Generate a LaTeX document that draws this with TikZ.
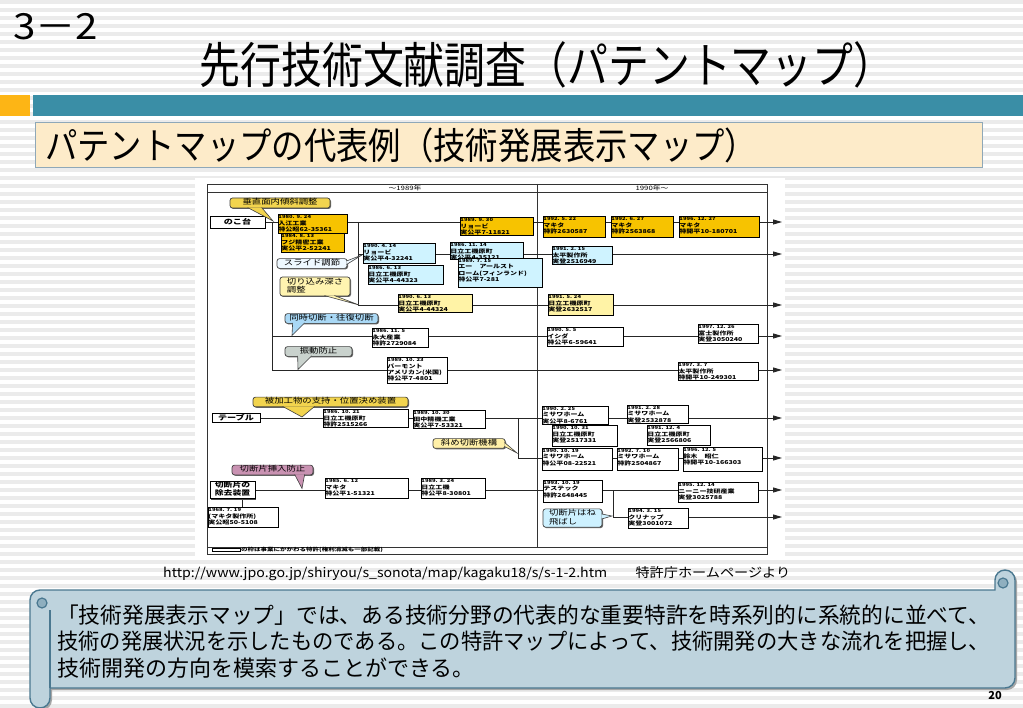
\documentclass[tikz,border=0pt]{standalone}
\usepackage{fontspec}
\usepackage{graphicx}
\setmainfont{Noto Sans CJK JP}
\usetikzlibrary{arrows.meta,shadows,calc}
\pgfdeclarelayer{bg}
\pgfdeclarelayer{conn}
\pgfsetlayers{bg,conn,main}
\definecolor{stripe}{HTML}{EBEBEB}
\definecolor{barorange}{HTML}{FDB515}
\definecolor{barteal}{HTML}{3A8EA6}
\definecolor{subfill}{HTML}{FDEBC9}
\definecolor{subdraw}{HTML}{8FA8B8}
\definecolor{scrollfill}{HTML}{BED3DD}
\definecolor{scrolldraw}{HTML}{4A7890}
\definecolor{scrolldark}{HTML}{8FAFBF}
\definecolor{bgold}{HTML}{F7C300}
\definecolor{bcyan}{HTML}{CFF3FF}
\definecolor{byel}{HTML}{FFF3A6}
\definecolor{cslide}{HTML}{EEF8FF}
\definecolor{cdepth}{HTML}{FFF4B0}
\definecolor{cdouble}{HTML}{A9D8F5}
\definecolor{cvib}{HTML}{C9D2CD}
\definecolor{cwork}{HTML}{F2D44E}
\definecolor{coblique}{HTML}{FFF0A8}
\definecolor{cpiece}{HTML}{C992B2}
\definecolor{cfly}{HTML}{CDF1FF}
\newcommand\bxfont{\fontsize{5.4}{6}\selectfont\bfseries}
\newcommand\dtfont{\fontsize{4.5}{5}\selectfont\bfseries}
\newcommand\clfont{\fontsize{7.5}{8}\selectfont}
\def\splitd#1\\#2\relax{{\dtfont #1}\\#2}
\newcommand\btext[1]{\scalebox{1.3}[1]{\bxfont\begin{tabular}{@{}l@{}}\splitd#1\relax\end{tabular}}}
\newcommand\pbx[7]{%
  \node[pbox,fill=#6,minimum width={#4pt-#2pt},minimum height={#5pt-#3pt}] (#1) at ({(#2+#4)/2},{(#3+#5)/2}) {};%
  \node[anchor=north west,inner sep=0.6pt] (#1t) at (#1.north west) {\btext{#7}};}
\newcommand\cll[7]{%
  \node[call,fill=#6,minimum width={#4pt-#2pt},minimum height={#5pt-#3pt}] (#1) at ({(#2+#4)/2},{(#3+#5)/2}) {\scalebox{1.25}[1]{\clfont\begin{tabular}{@{}l@{}}#7\end{tabular}}};}
\newcommand\ptr[4]{\fill[#1] #2 -- #4 -- #3 -- cycle; \draw[callline] #2 -- #4 -- #3;}
\tikzset{
  pbox/.style={draw=black,line width=0.7pt,inner sep=0pt,
    drop shadow={shadow xshift=1pt,shadow yshift=-1pt,fill=black!70,opacity=1}},
  labbox/.style={draw=black,line width=0.9pt,fill=white,inner sep=1pt,
    drop shadow={shadow xshift=1pt,shadow yshift=-1pt,fill=black!70,opacity=1}},
  call/.style={draw=black!75,line width=0.7pt,rounded corners=2.5pt,inner sep=0.5pt,
    drop shadow={shadow xshift=1pt,shadow yshift=-1pt,fill=black!60,opacity=1}},
  callline/.style={draw=black!75,line width=0.6pt},
  row/.style={line width=0.8pt,draw=black!85},
  arr/.style={row,-{Triangle[length=9pt,width=5pt]}},
  frame/.style={line width=0.8pt,draw=black!80}
}
\begin{document}
\begin{tikzpicture}[x=1pt,y=-1pt]
\useasboundingbox (0,0) rectangle (1023,708);
\begin{pgfonlayer}{bg}
  \fill[white] (0,0) rectangle (1023,708);
  \foreach \yy in {0,8,...,704} \draw[stripe,line width=3.5pt] (0,\yy+2) -- (1023,\yy+2);
  \fill[white] (195,178) rectangle (785,557);
  \draw[frame] (207,184) rectangle (767,554);
  \draw[frame] (207,192) -- (767,192);
  \draw[frame] (537,184) -- (537,547);
  \draw[frame] (207,547) -- (767,547);
\end{pgfonlayer}

% title area
\node[anchor=base west,inner sep=0pt] (num) at (13,40) {\resizebox{85pt}{\height}{\fontsize{36}{36}\selectfont 3－2}};
\node[anchor=base,inner sep=0pt] (title) at (547,84) {\resizebox{695pt}{\height}{\fontsize{49}{49}\selectfont 先行技術文献調査（パテントマップ）}};
\fill[barorange] (0,95) rectangle (30,116);
\fill[barteal] (33,95) rectangle (1023,116);
\draw[subdraw,fill=subfill,line width=1pt] (35,123) rectangle (982,168);
\node[anchor=base west,inner sep=0pt] (sub) at (45,160) {\resizebox{712pt}{\height}{\fontsize{37}{37}\selectfont パテントマップの代表例（技術発展表示マップ）}};

% header of map
\node[inner sep=0pt] (h1) at (405,188) {\scalebox{1.3}[1]{\fontsize{6}{6}\selectfont ～1989年}};
\node[inner sep=0pt] (h2) at (652,188) {\scalebox{1.3}[1]{\fontsize{6}{6}\selectfont 1990年～}};

% labels
\node[labbox,minimum width=55pt,minimum height=12pt,anchor=center] (noko) at (237.5,222) {\scalebox{1.3}[1]{\fontsize{7}{7}\selectfont\bfseries のこ台}};
\node[labbox,minimum width=48pt,minimum height=9pt] (table) at (236,418) {\scalebox{1.3}[1]{\fontsize{7}{7}\selectfont\bfseries テーブル}};
\node[labbox,minimum width=45pt,minimum height=16pt] (jokyo) at (232.5,490) {\scalebox{1.3}[1]{\fontsize{6.8}{7}\selectfont\bfseries\begin{tabular}{@{}l@{}}切断片の\\除去装置\end{tabular}}};

% row 1
\pbx{b11}{278}{214}{347}{233}{bgold}{1980. 9. 24\\入江工業\\特公昭62-35361}
\pbx{b12}{281}{233}{344}{252}{bgold}{1984. 8. 13\\フジ精密工業\\実公平2-52241}
\pbx{b13}{460}{217}{533}{235}{bgold}{1989. 9. 30\\リョービ\\実公平7-11821}
\pbx{b14}{543}{216}{605}{237}{bgold}{1992. 5. 22\\マキタ\\特許2630587}
\pbx{b15}{611}{216}{673}{237}{bgold}{1992. 6. 27\\マキタ\\特許2563868}
\pbx{b16}{679}{216}{759}{237}{bgold}{1996. 12. 27\\マキタ\\特開平10-180701}
% row 2
\pbx{b21}{363}{243}{435}{263}{bcyan}{1990. 4. 14\\リョービ\\実公平4-32241}
\pbx{b22}{368}{265}{443}{284}{bcyan}{1986. 6. 13\\日立工機原町\\実公平4-44323}
\pbx{b23}{450}{242}{523}{259}{bcyan}{1986. 11. 14\\日立工機原町\\実公平4-35121}
\pbx{b24}{458}{258}{542}{287}{bcyan}{1989. 7. 15\\エー　アールスト\\ローム(フィンランド)\\特公平7-281}
\pbx{b25}{552}{246}{612}{264}{bcyan}{1991. 2. 15\\太平製作所\\実登2516949}
% row 3
\pbx{b31}{398}{294}{472}{312}{byel}{1990. 6. 13\\日立工機原町\\実公平4-44324}
\pbx{b32}{548}{294}{613}{315}{byel}{1991. 5. 24\\日立工機原町\\実登2632517}
% row 4
\pbx{b41}{372}{328}{428}{347}{white}{1986. 11. 5\\永大産業\\特許2729084}
\pbx{b42}{547}{327}{623}{346}{white}{1990. 5. 5\\イシダ\\特公平6-59641}
\pbx{b43}{698}{324}{758}{343}{white}{1997. 12. 26\\富士製作所\\実登3050240}
% row 5
\pbx{b51}{387}{357}{447}{383}{white}{1989. 10. 23\\バーモント\\アメリカン(米国)\\特公平7-4801}
\pbx{b52}{678}{362}{758}{380}{white}{1997. 3. 7\\太平製作所\\特開平10-249301}
% row 6
\pbx{b61}{323}{409}{408}{427}{white}{1986. 10. 21\\日立工機原町\\特許2515266}
\pbx{b62}{413}{410}{485}{428}{white}{1989. 10. 30\\田中精機工業\\実公平7-53321}
\pbx{b63}{542}{406}{608}{424}{white}{1990. 2. 25\\ミサワホーム\\実公平8-6761}
\pbx{b64}{552}{425}{617}{446}{white}{1990. 10. 31\\日立工機原町\\実登2517331}
\pbx{b65}{627}{405}{688}{423}{white}{1991. 2. 28\\ミサワホーム\\実登2532878}
\pbx{b66}{647}{425}{710}{445}{white}{1991. 12. 4\\日立工機原町\\実登2566806}
% row 7
\pbx{b71}{542}{448}{612}{470}{white}{1990. 10. 19\\ミサワホーム\\特公平08-22521}
\pbx{b72}{617}{448}{678}{470}{white}{1992. 7. 10\\ミサワホーム\\特許2504867}
\pbx{b73}{683}{447}{762}{471}{white}{1996. 12. 5\\鈴木　昭仁\\特開平10-166303}
% row 8
\pbx{b81}{208}{507}{278}{527}{white}{1968. 7. 19\\(マキタ製作所)\\実公昭50-5108}
\pbx{b82}{325}{478}{408}{498}{white}{1985. 6. 12\\マキタ\\特公平1-51321}
\pbx{b83}{421}{478}{485}{498}{white}{1989. 3. 24\\日立工機\\特公平8-30801}
\pbx{b84}{543}{480}{602}{502}{white}{1993. 10. 19\\テステック\\特許2648445}
\pbx{b85}{678}{482}{758}{502}{white}{1995. 12. 14\\ニーニー技研産業\\実登3025788}
\pbx{b86}{628}{508}{688}{528}{white}{1994. 3. 15\\クリナップ\\実登3001072}

% junction and end coordinates
\coordinate (j1) at (272,222);
\coordinate (j4) at (272,336);
\coordinate (j5) at (272,370);
\coordinate (k1) at (358,222);
\coordinate (k2) at (358,254);
\coordinate (k3) at (358,305);
\coordinate (m1) at (518,418);
\coordinate (m2) at (518,458);
\coordinate (n1) at (613,490);
\coordinate (n2) at (613,517);
\coordinate (e1) at (782,222);
\coordinate (e2) at (782,254);
\coordinate (e3) at (782,305);
\coordinate (e4) at (782,336);
\coordinate (e5) at (782,370);
\coordinate (e6) at (782,418);
\coordinate (e7) at (782,458);
\coordinate (e8) at (782,490);
\coordinate (e9) at (782,517);

\begin{pgfonlayer}{conn}
  \draw[arr] (noko.east) -- (e1);
  \draw[row] (j1) -- (j5);
  \draw[arr] (j4) -- (e4);
  \draw[arr] (j5) -- (e5);
  \draw[row] (k1) -- (k3);
  \draw[arr] (k2) -- (e2);
  \draw[arr] (k3) -- (e3);
  \draw[arr] (table.east) -- (e6);
  \draw[row] (m1) -- (m2);
  \draw[arr] (m2) -- (e7);
  \draw[arr] (jokyo.east) -- (e8);
  \draw[row] (n1) -- (n2);
  \draw[arr] (n2) -- (e9);
  \draw[row] ([xshift=10pt]jokyo.south) -- ([xshift=10pt]jokyo.south |- b81.north);
\end{pgfonlayer}

% callouts
\coordinate (tp1) at (273,221);
\coordinate (tp2) at (362,255);
\coordinate (tp3) at (359,305);
\coordinate (tp4) at (292,335.5);
\coordinate (tp5) at (298,369.5);
\coordinate (tp6) at (302,417);
\coordinate (tp7) at (517,453);
\coordinate (tp8) at (302,488.5);
\coordinate (tp9) at (612,516);
\cll{c1}{230}{198}{330}{208}{cwork}{垂直面内傾斜調整}
\ptr{cwork}{([xshift=18pt,yshift=0.8pt]c1.south west)}{([xshift=32pt,yshift=0.8pt]c1.south west)}{(tp1)}
\cll{c2}{277}{259}{347}{268}{cslide}{スライド調節}
\ptr{cslide}{([xshift=-0.8pt,yshift=2.5pt]c2.east)}{([xshift=-0.8pt,yshift=-1pt]c2.east)}{(tp2)}
\cll{c3}{280}{277}{350}{296}{cdepth}{切り込み深さ\\調整}
\ptr{cdepth}{([xshift=-26pt,yshift=0.8pt]c3.south east)}{([xshift=-16pt,yshift=0.8pt]c3.south east)}{(tp3)}
\cll{c4}{285}{314}{378}{323}{cdouble}{同時切断・往復切断}
\ptr{cdouble}{([xshift=8pt,yshift=0.8pt]c4.south west)}{([xshift=20pt,yshift=0.8pt]c4.south west)}{(tp4)}
\cll{c5}{285}{347}{352}{356}{cvib}{振動防止}
\ptr{cvib}{([xshift=13pt,yshift=0.8pt]c5.south west)}{([xshift=27pt,yshift=0.8pt]c5.south west)}{(tp5)}
\cll{c6}{253}{398}{408}{406}{cwork}{被加工物の支持・位置決め装置}
\ptr{cwork}{([xshift=30pt,yshift=0.8pt]c6.south west)}{([xshift=62pt,yshift=0.8pt]c6.south west)}{(tp6)}
\cll{c7}{433}{439}{505}{448}{coblique}{斜め切断機構}
\ptr{coblique}{([xshift=-0.8pt,yshift=1pt]c7.east)}{([xshift=-0.8pt,yshift=-3pt]c7.east)}{(tp7)}
\cll{c8}{232}{466}{313}{474}{cpiece}{切断片挿入防止}
\ptr{cpiece}{([xshift=63pt,yshift=0.8pt]c8.south west)}{([xshift=73pt,yshift=0.8pt]c8.south west)}{(tp8)}
\cll{c9}{543}{510}{602}{526}{cfly}{切断片はね\\飛ばし}
\ptr{cfly}{([xshift=-0.8pt,yshift=4pt]c9.east)}{([xshift=-0.8pt,yshift=-1pt]c9.east)}{(tp9)}

% legend
\node[draw=black,line width=0.8pt,minimum width=28pt,minimum height=3.5pt,inner sep=0pt] (leg) at (226,550) {};
\node[anchor=west,inner sep=0pt] (legt) at (241,550) {\scalebox{1.3}[1]{\fontsize{5}{5}\selectfont\bfseries の枠は事業にかかわる特許(権利消滅も一部記載)}};

% source
\node[anchor=base west,inner sep=0pt] (src) at (163,577) {\resizebox{627pt}{\height}{\fontsize{13}{13}\selectfont http://www.jpo.go.jp/shiryou/s\_sonota/map/kagaku18/s/s-1-2.htm　　特許庁ホームページより}};

% scroll
\def\scrollpath{(30,600) arc[start angle=180,end angle=90,radius=10pt] -- (995,590) -- (995,580) arc[start angle=180,end angle=0,radius=10pt] -- (1015,678) arc[start angle=0,end angle=-90,radius=10pt] -- (50,688) -- (50,698) arc[start angle=0,end angle=-180,radius=10pt] -- cycle}
\begin{scope}[shift={(2,2)}]
  \fill[black!35] \scrollpath;
\end{scope}
\draw[scrolldraw,fill=scrollfill,line width=1.4pt] \scrollpath;
\draw[scrolldraw,line width=1.4pt] (50,610) -- (50,688);
\draw[scrolldraw,fill=scrolldark,line width=1.2pt] (42,603) circle[radius=5pt];
\draw[scrolldraw,fill=scrolldark,line width=1.2pt] (1003,583) circle[radius=5pt];
\node[anchor=base west,inner sep=0pt] (s1) at (57,623) {\resizebox{933pt}{\height}{\fontsize{22}{22}\selectfont 「技術発展表示マップ」では、ある技術分野の代表的な重要特許を時系列的に系統的に並べて、}};
\node[anchor=base west,inner sep=0pt] (s2) at (57,649) {\resizebox{933pt}{\height}{\fontsize{22}{22}\selectfont 技術の発展状況を示したものである。この特許マップによって、技術開発の大きな流れを把握し、}};
\node[anchor=base west,inner sep=0pt] (s3) at (57,676) {\fontsize{22}{22}\selectfont 技術開発の方向を模索することができる。};
\node[anchor=base east,inner sep=0pt] (pg) at (1002,699) {\fontsize{11}{11}\selectfont\bfseries 20};
\end{tikzpicture}
\end{document}
